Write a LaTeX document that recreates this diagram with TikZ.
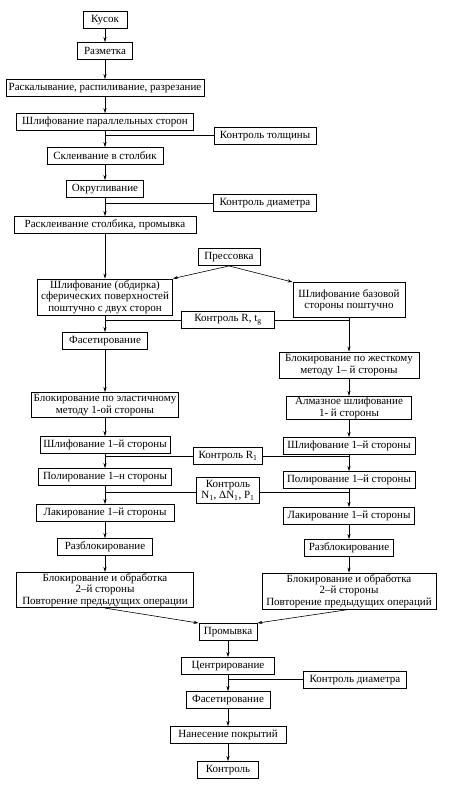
\documentclass[tikz,border=0pt]{standalone}
\usepackage{fontspec}
\setmainfont{Liberation Serif}
\usetikzlibrary{arrows.meta, positioning, calc}

\begin{document}
\begin{tikzpicture}[x=1pt, y=-1pt, >={Stealth[length=5pt, width=3.2pt]},
    font=\fontsize{11}{11.5}\selectfont,
    box/.style={draw, rectangle, line width=0.9pt, fill=white, inner xsep=2pt,
      inner ysep=1pt, minimum height=17pt, align=center},
    link/.style={line width=0.6pt}]
\useasboundingbox (0,0) rectangle (458,788);

% left column
\node[box, minimum width=44pt] (kusok) at (105, 20) {Кусок};
\node[box, minimum width=55pt] (razm) at (105, 51) {Разметка};
\node[box, minimum width=198pt] (raskal) at (105, 88) {Раскалывание, распиливание, разрезание};
\node[box, minimum width=177pt] (shlpar) at (105, 122) {Шлифование параллельных сторон};
\node[box, minimum width=102pt] (ktolsh) at (265, 136) {Контроль толщины};
\node[box, minimum width=116pt] (skleiv) at (105, 156) {Склеивание в столбик};
\node[box, minimum width=77pt] (okrugl) at (105, 189) {Округливание};
\node[box, minimum width=103pt] (kdiam) at (265, 203) {Контроль диаметра};
\node[box, minimum width=182pt] (raskl) at (105, 225) {Расклеивание столбика, промывка};

\node[box, minimum width=62pt] (press) at (229, 257) {Прессовка};

\node[box, minimum width=135pt, minimum height=36pt] (shlobd) at (105, 297)
  {Шлифование (обдирка)\\сферических поверхностей\\поштучно с двух сторон};
\node[box, minimum width=112pt, minimum height=35pt] (shlbaz) at (349, 300)
  {Шлифование базовой\\стороны поштучно};
\node[box, minimum width=93pt] (kRt) at (228, 320) {Контроль R, t\textsubscript{g}};

\node[box, minimum width=85pt] (fasetL) at (105, 341) {Фасетирование};
\node[box, minimum width=140pt, minimum height=26pt] (blokzh) at (349, 365)
  {Блокирование по жесткому\\методу 1-- й стороны};
\node[box, minimum width=142pt, minimum height=25pt] (blokel) at (105, 405)
  {Блокирование по эластичному\\методу 1-ой стороны};
\node[box, minimum width=125pt, minimum height=23pt] (almaz) at (349, 408)
  {Алмазное шлифование\\1- й стороны};

\node[box, minimum width=130pt] (shlL) at (105, 445) {Шлифование 1--й стороны};
\node[box, minimum width=132pt] (shlR) at (349, 446) {Шлифование 1--й стороны};
\node[box, minimum width=69pt] (kR1) at (228, 456) {Контроль R\textsubscript{1}};

\node[box, minimum width=133pt] (polL) at (105, 477) {Полирование 1--н стороны};
\node[box, minimum width=132pt] (polR) at (349, 480) {Полирование 1--й стороны};
\node[box, minimum width=63pt, minimum height=26pt] (kN) at (228, 490)
  {Контроль\\N\textsubscript{1}, ΔN\textsubscript{1}, P\textsubscript{1}};

\node[box, minimum width=138pt] (lakL) at (105, 513) {Лакирование 1--й стороны};
\node[box, minimum width=131pt] (lakR) at (349, 516) {Лакирование 1--й стороны};
\node[box, minimum width=95pt] (razbL) at (105, 547) {Разблокирование};
\node[box, minimum width=89pt] (razbR) at (349, 548) {Разблокирование};

\node[box, minimum width=177pt, minimum height=35pt] (blobL) at (105, 590)
  {Блокирование и обработка\\2--й стороны\\Повторение предыдущих операции};
\node[box, minimum width=174pt, minimum height=36pt] (blobR) at (349, 591)
  {Блокирование и обработка\\2--й стороны\\Повторение предыдущих операций};

% bottom column
\node[box, minimum width=58pt] (promyv) at (228, 632) {Промывка};
\node[box, minimum width=93pt] (centr) at (228, 666) {Центрирование};
\node[box, minimum width=103pt] (kdiam2) at (355, 680) {Контроль диаметра};
\node[box, minimum width=84pt] (fasetC) at (228, 700) {Фасетирование};
\node[box, minimum width=116pt] (nanes) at (228, 735) {Нанесение покрытий};
\node[box, minimum width=61pt] (kontr) at (228, 770) {Контроль};

% arrows
\draw[link, ->] (kusok) -- (razm);
\draw[link, ->] (razm) -- (raskal);
\draw[link, ->] (raskal) -- (shlpar);
\draw[link, ->] (shlpar) -- (skleiv);
\draw[link, ->] (skleiv) -- (okrugl);
\draw[link, ->] (okrugl) -- (raskl);
\draw[link, ->] (raskl) -- (shlobd);
\draw[link, ->] (press.south) -- (shlobd.north east);
\draw[link, ->] (press.south) -- (shlbaz.north west);
\draw[link, ->] (shlobd) -- (fasetL);
\draw[link, ->] (fasetL) -- (blokel);
\draw[link, ->] (blokel) -- (shlL);
\draw[link, ->] (shlL) -- (polL);
\draw[link, ->] (polL) -- (lakL);
\draw[link, ->] (lakL) -- (razbL);
\draw[link, ->] (razbL) -- (blobL);
\draw[link, ->] (shlbaz) -- (blokzh);
\draw[link, ->] (blokzh) -- (almaz);
\draw[link, ->] (almaz) -- (shlR);
\draw[link, ->] (shlR) -- (polR);
\draw[link, ->] (polR) -- (lakR);
\draw[link, ->] (lakR) -- (razbR);
\draw[link, ->] (razbR) -- (blobR);
\draw[link, ->] (blobL.south) -- (promyv.north west);
\draw[link, ->] (blobR.south) -- (promyv.north east);
\draw[link, ->] (promyv) -- (centr);
\draw[link, ->] (centr) -- (fasetC);
\draw[link, ->] (fasetC) -- (nanes);
\draw[link, ->] (nanes) -- (kontr);

% control lines
\draw[link] ([yshift=1pt]ktolsh.west) -- ([yshift=1pt]ktolsh.west -| shlpar);
\draw[link] (kdiam.west) -- (kdiam.west -| okrugl);
\draw[link] (kRt.west) -- (kRt.west -| shlobd);
\draw[link] (kRt.east) -- (kRt.east -| shlbaz);
\draw[link] (kR1.west) -- (kR1.west -| shlL);
\draw[link] (kR1.east) -- (kR1.east -| shlR);
\draw[link] ([yshift=-2pt]kN.west) -- ([yshift=-2pt]kN.west -| polL);
\draw[link] ([yshift=-2pt]kN.east) -- ([yshift=-2pt]kN.east -| polR);
\draw[link] ([yshift=1pt]kdiam2.west) -- ([yshift=1pt]kdiam2.west -| centr);
\end{tikzpicture}
\end{document}
